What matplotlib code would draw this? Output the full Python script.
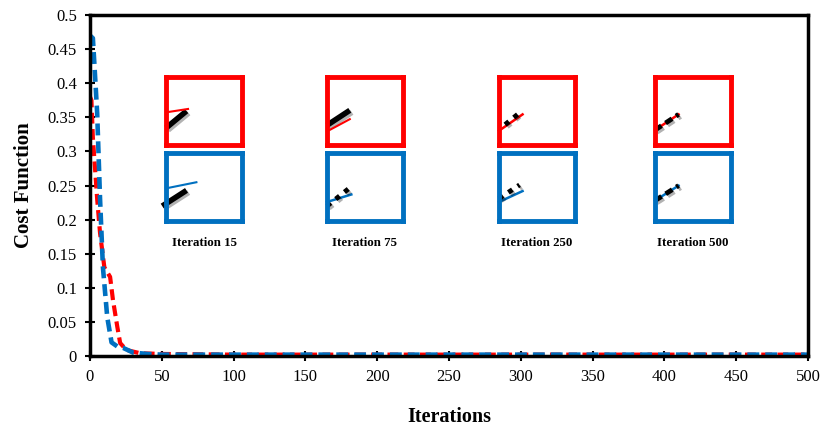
import matplotlib.pyplot as plt
import matplotlib.patheffects as pe

plt.rcParams['font.family'] = ['Liberation Serif', 'DejaVu Serif']

# cost function curves
red_x = [0, 1, 2, 5, 7, 10, 14, 16, 19, 21, 24, 27, 35, 50, 100, 200, 300, 400, 500]
red_y = [0.38, 0.375, 0.32, 0.23, 0.18, 0.13, 0.116, 0.082, 0.043, 0.019, 0.012, 0.008, 0.004, 0.003, 0.002, 0.002, 0.002, 0.002, 0.002]
blue_x = [0, 2, 3, 5, 7, 9, 12, 15, 19, 23, 30, 40, 50, 100, 200, 300, 400, 500]
blue_y = [0.47, 0.466, 0.43, 0.356, 0.23, 0.13, 0.057, 0.02, 0.014, 0.012, 0.005, 0.003, 0.002, 0.002, 0.002, 0.002, 0.002, 0.002]

xticks = list(range(0, 501, 50))
yticks = [0, 0.05, 0.1, 0.15, 0.2, 0.25, 0.3, 0.35, 0.4, 0.45, 0.5]
ytick_labels = ['0', '0.05', '0.1', '0.15', '0.2', '0.25', '0.3', '0.35', '0.4', '0.45', '0.5']

# inset snapshots: iteration and inset left edge (px)
snap_iters = [15, 75, 250, 500]
snap_left = [166, 327, 499, 655]
# line end points inside each inset (axes fractions): fitted line and black target line
red_fit = [[(0, 0.48), (0.29, 0.53)], [(0, 0.20), (0.30, 0.38)], [(0, 0.21), (0.31, 0.45)], [(0, 0.22), (0.31, 0.45)]]
red_true = [[(0, 0.25), (0.27, 0.50)], [(0, 0.29), (0.30, 0.51)], [(0.08, 0.30), (0.30, 0.50)], [(0, 0.22), (0.31, 0.45)]]
red_style = ['-', '-', ':', '--']
blue_fit = [[(0, 0.48), (0.40, 0.57)], [(0, 0.28), (0.32, 0.39)], [(0, 0.28), (0.31, 0.44)], [(0, 0.30), (0.31, 0.52)]]
blue_true = [[(-0.05, 0.22), (0.27, 0.45)], [(0, 0.22), (0.29, 0.48)], [(0, 0.33), (0.27, 0.53)], [(0, 0.30), (0.31, 0.52)]]
blue_style = ['-', ':', ':', '--']

red = '#FF0000'
blue = '#0070C0'

fig = plt.figure(figsize=(8.24, 4.28), dpi=100)
ax = fig.add_axes([90 / 824, 72 / 428, 718 / 824, 341 / 428])

ax.plot(red_x, red_y, color=red, lw=3, dashes=(2.6, 1.3))
ax.plot(blue_x, blue_y, color=blue, lw=3.3, dashes=(2.6, 1.3))

ax.set_xlim(0, 500)
ax.set_ylim(0, 0.5)
ax.set_xticks(xticks)
ax.set_yticks(yticks)
ax.set_yticklabels(ytick_labels)
ax.tick_params(direction='inout', length=7, width=1.5, labelsize=12, pad=6)
for s in ax.spines.values():
    s.set_linewidth(2.5)
ax.set_xlabel('Iterations', fontsize=14.5, fontweight='bold', labelpad=16)
ax.set_ylabel('Cost Function', fontsize=15, fontweight='bold', labelpad=10)

shadow = [pe.SimpleLineShadow(offset=(1.5, -1.5), alpha=0.3), pe.Normal()]

for i, it in enumerate(snap_iters):
    left = snap_left[i] / 824
    boxes = [(red, red_fit, red_true, red_style, 77), (blue, blue_fit, blue_true, blue_style, 153)]
    for col, fit, true, style, top in boxes:
        ia = fig.add_axes([left, (428 - top - 68) / 428, 76 / 824, 68 / 428])
        ia.set_xlim(0, 1)
        ia.set_ylim(0, 1)
        ia.set_xticks([])
        ia.set_yticks([])
        for s in ia.spines.values():
            s.set_color(col)
            s.set_linewidth(3.5)
        (x0, y0), (x1, y1) = fit[i]
        (a0, b0), (a1, b1) = true[i]
        if style[i] == '-':
            ia.plot([a0, a1], [b0, b1], color='black', lw=4, solid_capstyle='butt',
                    path_effects=shadow, clip_on=False)
            ia.plot([x0, x1], [y0, y1], color=col, lw=1.5, clip_on=False)
        else:
            ia.plot([x0, x1], [y0, y1], color=col, lw=1.8, clip_on=False)
            d = (1, 1.3) if style[i] == ':' else (1.6, 1.0)
            ia.plot([a0, a1], [b0, b1], color='black', lw=3.5, dashes=d,
                    path_effects=shadow, clip_on=False)
    fig.text(left + 38 / 824, 1 - 243 / 428, 'Iteration %d' % it, ha='center', va='center',
             fontsize=9.3, fontweight='bold')

fig.savefig('out.png', dpi=100)
